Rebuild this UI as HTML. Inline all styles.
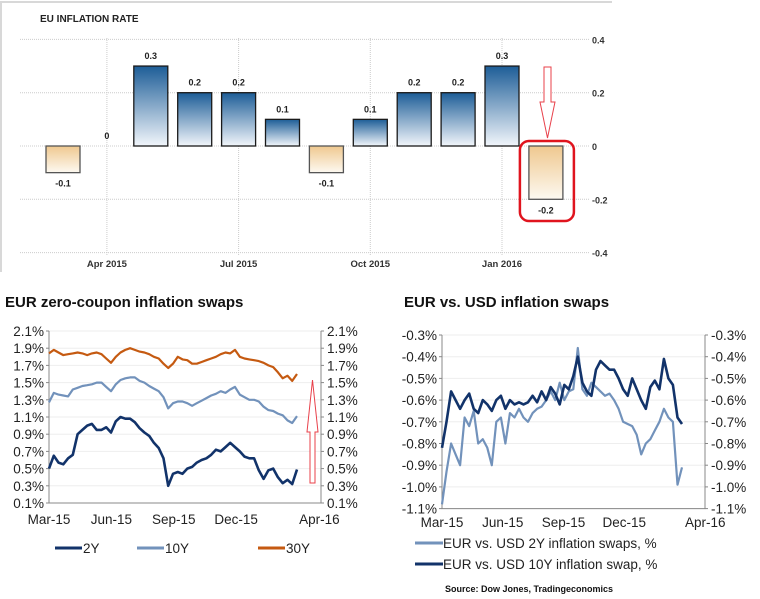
<!DOCTYPE html>
<html><head><meta charset="utf-8"><style>
body{margin:0;background:#fff;}
svg{display:block;font-family:"Liberation Sans",sans-serif;}
</style></head><body>
<svg id="root" width="760" height="599" viewBox="0 0 760 599">
<defs>
<linearGradient id="gBlue" x1="0" y1="0" x2="0" y2="1"><stop offset="0" stop-color="#1d5d97"/><stop offset="1" stop-color="#f2f6fb"/></linearGradient>
<linearGradient id="gOrange" x1="0" y1="0" x2="0" y2="1"><stop offset="0" stop-color="#efc88f"/><stop offset="1" stop-color="#fdf9f1"/></linearGradient>
</defs>
<g id="topChart">
<path d="M1,272 L1,2 L612,2" fill="none" stroke="#d8d8d8" stroke-width="2"/>
<text x="40" y="22" font-size="10" font-weight="bold" fill="#222">EU INFLATION RATE</text>
</g>
<g id="bl">
<text x="5" y="307" font-size="15" font-weight="bold" fill="#111">EUR zero-coupon inflation swaps</text>
</g>
<g id="br">
<text x="404" y="307" font-size="15" font-weight="bold" fill="#111">EUR vs. USD inflation swaps</text>
<text x="445" y="592" font-size="9" font-weight="bold" fill="#111">Source: Dow Jones, Tradingeconomics</text>
</g>
</svg>
<script>
// Top chart data
const barValues=[-0.1,0,0.3,0.2,0.2,0.1,-0.1,0.1,0.2,0.2,0.3,-0.2];
const barLabels=["-0.1","0","0.3","0.2","0.2","0.1","-0.1","0.1","0.2","0.2","0.3","-0.2"];
const topYTicks=[0.4,0.2,0,-0.2,-0.4];
const topYTickLabels=["0.4","0.2","0","-0.2","-0.4"];
const topXLabels=["Apr 2015","Jul 2015","Oct 2015","Jan 2016"];
const topXLabelIdx=[1,4,7,10];
// Left bottom chart data (weekly, Mar-15 .. early Mar-16)
const swap2Y=[0.50,0.65,0.57,0.55,0.62,0.66,0.90,0.95,1.00,1.02,0.95,0.95,0.98,0.92,1.05,1.10,1.08,1.08,1.04,0.97,0.92,0.88,0.80,0.74,0.62,0.30,0.44,0.46,0.44,0.50,0.52,0.57,0.60,0.62,0.66,0.72,0.70,0.75,0.80,0.75,0.70,0.64,0.62,0.62,0.48,0.38,0.48,0.50,0.40,0.33,0.37,0.32,0.49];
const swap10Y=[1.27,1.38,1.36,1.35,1.34,1.42,1.44,1.46,1.47,1.48,1.50,1.50,1.45,1.40,1.48,1.53,1.55,1.56,1.56,1.52,1.50,1.46,1.43,1.40,1.33,1.20,1.26,1.28,1.28,1.26,1.23,1.26,1.29,1.32,1.35,1.37,1.40,1.38,1.42,1.45,1.36,1.33,1.30,1.30,1.28,1.22,1.18,1.17,1.14,1.12,1.06,1.03,1.11];
const swap30Y=[1.84,1.88,1.85,1.82,1.83,1.84,1.85,1.84,1.82,1.84,1.85,1.83,1.78,1.73,1.80,1.85,1.88,1.90,1.88,1.86,1.85,1.83,1.80,1.78,1.72,1.67,1.72,1.80,1.77,1.76,1.72,1.72,1.74,1.76,1.78,1.80,1.83,1.85,1.84,1.88,1.80,1.78,1.77,1.76,1.75,1.73,1.70,1.68,1.62,1.55,1.58,1.52,1.60];
const leftYTicks=[2.1,1.9,1.7,1.5,1.3,1.1,0.9,0.7,0.5,0.3,0.1];
const monthLabels=["Mar-15","Jun-15","Sep-15","Dec-15","Apr-16"];
const monthOffsets=[0,3,6,9,13];
// Right bottom chart data
const eurUsd2Y=[-1.08,-0.93,-0.80,-0.85,-0.90,-0.68,-0.72,-0.65,-0.80,-0.78,-0.82,-0.90,-0.70,-0.68,-0.80,-0.66,-0.68,-0.64,-0.68,-0.70,-0.66,-0.64,-0.63,-0.60,-0.56,-0.60,-0.52,-0.60,-0.56,-0.55,-0.36,-0.55,-0.58,-0.52,-0.54,-0.56,-0.58,-0.57,-0.60,-0.64,-0.70,-0.71,-0.72,-0.76,-0.85,-0.80,-0.78,-0.74,-0.70,-0.64,-0.68,-0.70,-0.99,-0.91];
const eurUsd10Y=[-0.82,-0.70,-0.56,-0.60,-0.64,-0.60,-0.57,-0.64,-0.66,-0.60,-0.62,-0.65,-0.60,-0.58,-0.64,-0.60,-0.62,-0.61,-0.62,-0.61,-0.58,-0.61,-0.56,-0.60,-0.54,-0.57,-0.62,-0.53,-0.55,-0.49,-0.40,-0.52,-0.56,-0.58,-0.46,-0.42,-0.44,-0.46,-0.46,-0.50,-0.55,-0.58,-0.50,-0.55,-0.60,-0.64,-0.54,-0.51,-0.55,-0.41,-0.50,-0.53,-0.68,-0.71];
const rightYTicks=[-0.3,-0.4,-0.5,-0.6,-0.7,-0.8,-0.9,-1.0,-1.1];

const NS="http://www.w3.org/2000/svg";
function mk(parent,tag,attrs,txt){const e=document.createElementNS(NS,tag);for(const k in attrs)e.setAttribute(k,attrs[k]);if(txt!==undefined)e.textContent=txt;parent.appendChild(e);return e;}

// ---- Top bar chart
const topG=document.getElementById('topChart');
const ty=v=>146-v*266.5;
const tx=i=>63+i*43.9;
topYTicks.forEach((t,k)=>{
  const g=mk(topG,'line',{x1:20,x2:590,y1:ty(t),y2:ty(t),stroke:'#ccc','stroke-dasharray':'1,1'});
  
  
  const l=mk(topG,'text',{x:592,y:ty(t)+4,'font-size':9,'font-weight':'bold',fill:'#333'},topYTickLabels[k]);
  
  
});
topXLabelIdx.forEach((idx,k)=>{
  const g=mk(topG,'line',{x1:tx(idx),x2:tx(idx),y1:38,y2:256,stroke:'#ccc','stroke-dasharray':'1,1'});
  
  
  const l=mk(topG,'text',{x:tx(idx),y:267,'font-size':9.5,'font-weight':'bold',fill:'#333','text-anchor':'middle'},topXLabels[k]);
  
  
});
barValues.forEach((v,i)=>{
  const y0=ty(Math.max(v,0)),h=Math.abs(ty(v)-ty(0));
  if(h>0){
    const r=mk(topG,'rect',{x:tx(i)-17,y:y0,width:34,height:h,fill:v>=0?'url(#gBlue)':'url(#gOrange)',stroke:v>=0?'#1a1a1a':'#555','stroke-width':1.3});
    
    
  }
  const lyy=v>=0?ty(v)-7:ty(v)+14;
  const l=mk(topG,'text',{x:tx(i),y:lyy,'font-size':9,'font-weight':'bold',fill:'#222','text-anchor':'middle'},barLabels[i]);
  
  
});
const hb=mk(topG,'rect',{x:tx(11)-26,y:141,width:54,height:80,rx:9,fill:'none',stroke:'#e0141e','stroke-width':2.5});


const da=mk(topG,'path',{d:'M544,67 L551,67 L551,102 L555,102 L547.5,138 L540,102 L544,102 Z',fill:'#fff',stroke:'#e8404a','stroke-width':1});



// ---- Bottom-left chart
const bl=document.getElementById('bl');
const lx0=49,lx1=321,lxEnd=297;
const ly=v=>331+(2.1-v)*86;
const monthX=(x0,perMonth)=>m=>x0+m*perMonth;
const lmx=monthX(49,20.8);
leftYTicks.forEach(t=>{
  const g=mk(bl,'line',{x1:lx0,x2:lx1,y1:ly(t),y2:ly(t),stroke:'#eee'});
  
  
  const a=mk(bl,'text',{x:44,y:ly(t)+5,'font-size':13.5,fill:'#222','text-anchor':'end'},t.toFixed(1)+'%');
  
  
  const b=mk(bl,'text',{x:327,y:ly(t)+5,'font-size':13.5,fill:'#222'},t.toFixed(1)+'%');
  
  
  mk(bl,'line',{x1:lx0-3,x2:lx0,y1:ly(t),y2:ly(t),stroke:'#888'});
  mk(bl,'line',{x1:lx1,x2:lx1+3,y1:ly(t),y2:ly(t),stroke:'#888'});
});
const blAxes=mk(bl,'path',{d:`M${lx0},${ly(2.1)} V${ly(0.1)} H${lx1} V${ly(2.1)}`,fill:'none',stroke:'#888'});


monthLabels.forEach((m,k)=>{
  const l=mk(bl,'text',{x:lmx(monthOffsets[k]),y:524,'font-size':13.5,fill:'#222','text-anchor':'middle'},m);
  
  
});
function series(parent,arr,x0,x1,yf,color,w,name){
  const d=arr.map((v,i)=>(i?'L':'M')+(x0+i*(x1-x0)/(arr.length-1)).toFixed(1)+','+yf(v).toFixed(1)).join(' ');
  const p=mk(parent,'path',{d:d,fill:'none',stroke:color,'stroke-width':w,'stroke-linejoin':'round'});
  
  
}
series(bl,swap30Y,lx0,lxEnd,ly,'#c55a11',2.2,'line-30y');
series(bl,swap10Y,lx0,lxEnd,ly,'#7292bb',2.2,'line-10y');
series(bl,swap2Y,lx0,lxEnd,ly,'#12336a',2.6,'line-2y');
const ua=mk(bl,'path',{d:'M310,483 L310,432 L307,432 L312.5,380 L318,432 L315,432 L315,483 Z',fill:'#fff',stroke:'#e8404a','stroke-width':1});


[['2Y','#12336a',55],['10Y','#7292bb',137],['30Y','#c55a11',258]].forEach(e=>{
  const g=mk(bl,'g',{});
  
  
  mk(g,'line',{x1:e[2],x2:e[2]+27,y1:548,y2:548,stroke:e[1],'stroke-width':3});
  mk(g,'text',{x:e[2]+28,y:553,'font-size':13.5,fill:'#222'},e[0]);
});

// ---- Bottom-right chart
const br=document.getElementById('br');
const rx0=442,rx1=705,rxEnd=682;
const ry=v=>335+(-0.3-v)*217;
const rmx=monthX(442,20.25);
rightYTicks.forEach(t=>{
  const g=mk(br,'line',{x1:rx0,x2:rx1,y1:ry(t),y2:ry(t),stroke:'#eee'});
  
  
  const a=mk(br,'text',{x:437,y:ry(t)+5,'font-size':13.5,fill:'#222','text-anchor':'end'},t.toFixed(1)+'%');
  
  
  const b=mk(br,'text',{x:711,y:ry(t)+5,'font-size':13.5,fill:'#222'},t.toFixed(1)+'%');
  
  
  mk(br,'line',{x1:rx0-3,x2:rx0,y1:ry(t),y2:ry(t),stroke:'#888'});
  mk(br,'line',{x1:rx1,x2:rx1+3,y1:ry(t),y2:ry(t),stroke:'#888'});
});
const brAxes=mk(br,'path',{d:`M${rx0},${ry(-0.3)} V${ry(-1.1)} H${rx1} V${ry(-0.3)}`,fill:'none',stroke:'#888'});


monthLabels.forEach((m,k)=>{
  const l=mk(br,'text',{x:rmx(monthOffsets[k]),y:527,'font-size':13.5,fill:'#222','text-anchor':'middle'},m);
  
  
});
series(br,eurUsd2Y,rx0,rxEnd,ry,'#7292bb',2.2,'line-eur-usd-2y');
series(br,eurUsd10Y,rx0,rxEnd,ry,'#12336a',2.6,'line-eur-usd-10y');
[['EUR vs. USD 2Y inflation swaps, %','#7292bb',548],['EUR vs. USD 10Y inflation swap, %','#12336a',569]].forEach((e,k)=>{
  const g=mk(br,'g',{});
  
  
  mk(g,'line',{x1:415,x2:443,y1:e[2]-5,y2:e[2]-5,stroke:e[1],'stroke-width':3});
  mk(g,'text',{x:443,y:e[2],'font-size':13.5,fill:'#222'},e[0]);
});
</script>
</body></html>
